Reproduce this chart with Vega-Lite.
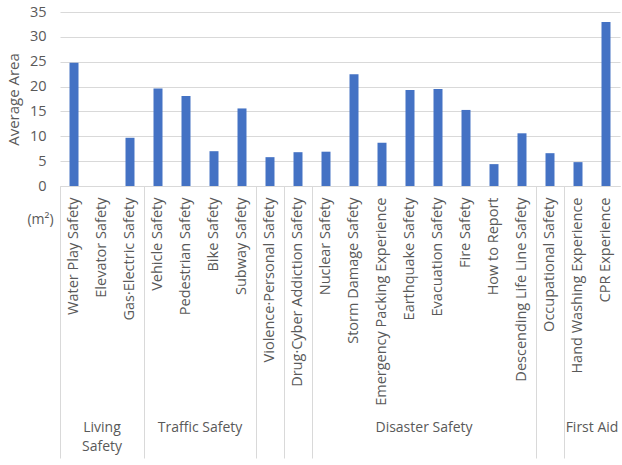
{
  "$schema": "https://vega.github.io/schema/vega-lite/v6.json",
  "width": 560,
  "height": 174,
  "autosize": {"type": "none"},
  "padding": {"left": 60, "top": 12, "right": 2, "bottom": 279},
  "config": {
    "font": "Open Sans",
    "view": {"stroke": null},
    "axis": {
      "labelColor": "#595959",
      "titleColor": "#595959",
      "domainColor": "#d9d9d9",
      "gridColor": "#d9d9d9",
      "tickColor": "#d9d9d9",
      "titleFontWeight": "normal"
    }
  },
  "data": {
    "values": [
      {"group": "Living Safety", "item": "Water Play Safety", "area": 24.8},
      {"group": "Living Safety", "item": "Elevator Safety", "area": 0},
      {"group": "Living Safety", "item": "Gas·Electric Safety", "area": 9.7},
      {"group": "Traffic Safety", "item": "Vehicle Safety", "area": 19.6},
      {"group": "Traffic Safety", "item": "Pedestrian Safety", "area": 18.1},
      {"group": "Traffic Safety", "item": "Bike Safety", "area": 7.0},
      {"group": "Traffic Safety", "item": "Subway Safety", "area": 15.6},
      {"group": "", "item": "Violence·Personal Safety", "area": 5.8},
      {"group": "", "item": "Drug·Cyber Addiction Safety", "area": 6.8},
      {"group": "Disaster Safety", "item": "Nuclear Safety", "area": 6.9},
      {"group": "Disaster Safety", "item": "Storm Damage Safety", "area": 22.5},
      {"group": "Disaster Safety", "item": "Emergency Packing Experience", "area": 8.7},
      {"group": "Disaster Safety", "item": "Earthquake Safety", "area": 19.3},
      {"group": "Disaster Safety", "item": "Evacuation Safety", "area": 19.5},
      {"group": "Disaster Safety", "item": "Fire Safety", "area": 15.3},
      {"group": "Disaster Safety", "item": "How to Report", "area": 4.4},
      {"group": "Disaster Safety", "item": "Descending Life Line Safety", "area": 10.6},
      {"group": "", "item": "Occupational Safety", "area": 6.6},
      {"group": "First Aid", "item": "Hand Washing Experience", "area": 4.8},
      {"group": "First Aid", "item": "CPR Experience", "area": 33.0}
    ]
  },
  "layer": [
    {
      "mark": {"type": "bar", "color": "#4472C4", "width": 9},
      "encoding": {
        "x": {
          "field": "item",
          "type": "nominal",
          "sort": null,
          "scale": {"paddingInner": 0, "paddingOuter": 0},
          "axis": {
            "orient": "bottom",
            "title": "(m²)",
            "titleX": -20,
            "titleY": 33,
            "titleAngle": 0,
            "titleAlign": "center",
            "titleBaseline": "middle",
            "titleFontSize": 14,
            "labelAngle": -90,
            "labelAlign": "right",
            "labelBaseline": "middle",
            "labelFontSize": 14.5,
            "labelPadding": 11,
            "labelLimit": 400,
            "labelOverlap": false,
            "ticks": false,
            "grid": false,
            "domain": true
          }
        },
        "y": {
          "field": "area",
          "type": "quantitative",
          "scale": {"domain": [0, 35]},
          "axis": {
            "title": "Average Area",
            "values": [0, 5, 10, 15, 20, 25, 30, 35],
            "domain": false,
            "ticks": false,
            "grid": true,
            "labelPadding": 14,
            "labelFontSize": 14.5,
            "titleFontSize": 15,
            "titlePadding": 8
          }
        }
      }
    },
    {
      "mark": {"type": "bar", "opacity": 0},
      "encoding": {
        "x": {
          "field": "item",
          "type": "nominal",
          "sort": null,
          "axis": {
            "orient": "bottom",
            "title": null,
            "bandPosition": 0,
            "domain": false,
            "grid": false,
            "ticks": true,
            "tickSize": 272,
            "tickOpacity": {
              "condition": {
                "test": "indexof(['Water Play Safety', 'Vehicle Safety', 'Violence·Personal Safety', 'Drug·Cyber Addiction Safety', 'Nuclear Safety', 'Occupational Safety', 'Hand Washing Experience'], datum.value) >= 0",
                "value": 1
              },
              "value": 0
            },
            "labelAngle": 0,
            "labelAlign": "center",
            "labelBaseline": "top",
            "labelPadding": -38,
            "labelFontSize": 14,
            "labelLineHeight": 19,
            "labelOverlap": false,
            "labelExpr": "datum.value == 'Elevator Safety' ? ['Living', 'Safety'] : datum.value == 'Bike Safety' ? 'Traffic Safety' : datum.value == 'Evacuation Safety' ? 'Disaster Safety' : datum.value == 'CPR Experience' ? 'First Aid' : ''",
            "labelOffset": {
              "condition": {"test": "datum.value == 'Elevator Safety'", "value": 0},
              "value": -14
            }
          }
        }
      }
    }
  ],
  "resolve": {"axis": {"x": "independent"}}
}
